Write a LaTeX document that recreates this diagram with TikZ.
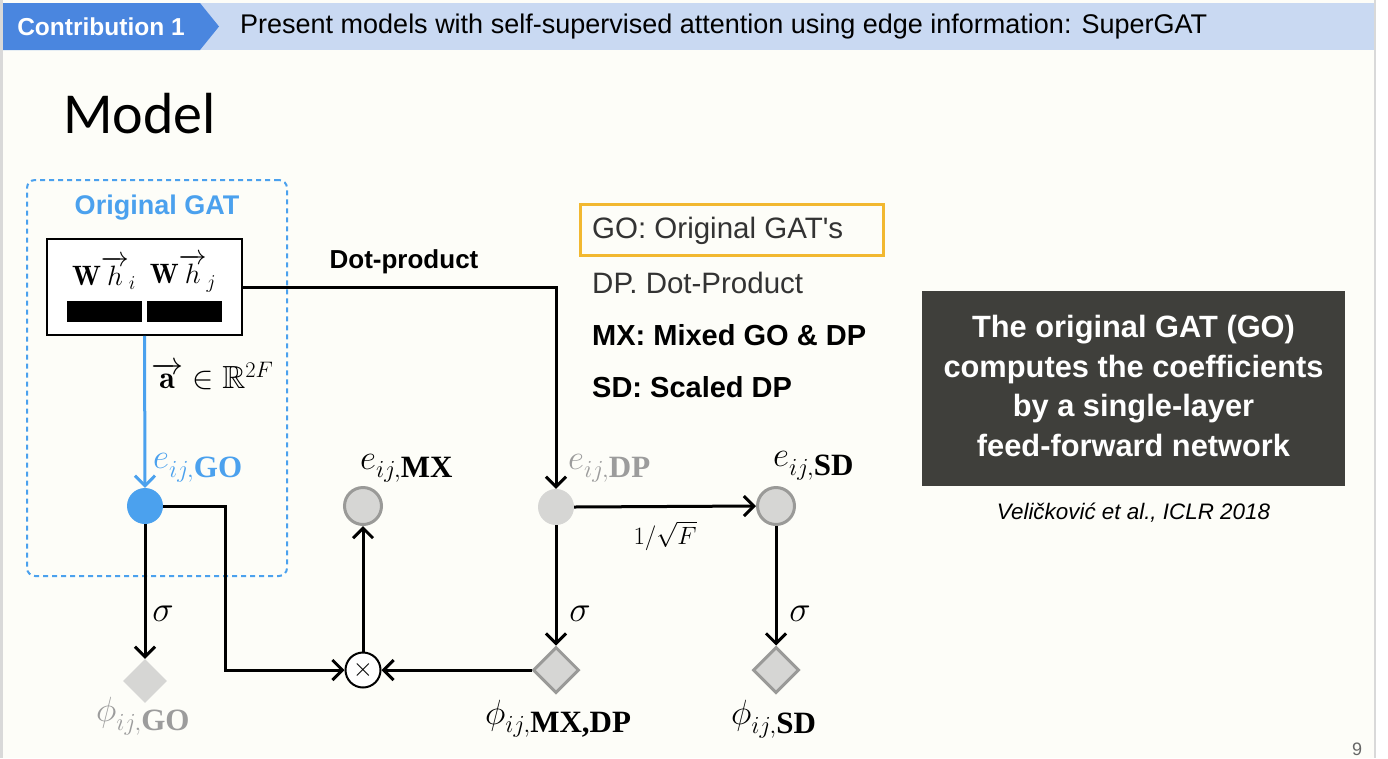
\RequirePackage{fix-cm}
\documentclass[tikz,border=0pt]{standalone}
\usepackage{amsmath,amssymb}
\usepackage{fontspec}
\newfontfamily\sansf{Liberation Sans}
\newfontfamily\seriff{Liberation Serif}
\newfontfamily\carl{Carlito}
\usetikzlibrary{arrows.meta,shapes.geometric}
\definecolor{barblue}{HTML}{C9D9F2}
\definecolor{arrowblue}{HTML}{4A86DF}
\definecolor{gatblue}{HTML}{4BA1EE}
\definecolor{nodegray}{HTML}{D6D6D4}
\definecolor{bordergray}{HTML}{9A9A98}
\definecolor{labgray}{HTML}{9C9C9C}
\definecolor{darkbox}{HTML}{3F3F3B}
\definecolor{legendyellow}{HTML}{F2B830}
\definecolor{slidebg}{HTML}{FDFDF8}
\definecolor{edgegray}{HTML}{D9D9D9}
\newcommand\bsub[1]{\text{\seriff\bfseries\fontsize{31}{36}\selectfont #1}}
\tikzset{
  conn/.style={line width=3pt, -{Straight Barb[length=10pt,width=20pt]}},
  plainnode/.style={circle, fill=nodegray, minimum size=36pt, inner sep=0pt},
  ringnode/.style={circle, fill=nodegray, draw=bordergray, line width=3pt, minimum size=37pt, inner sep=0pt},
  phinode/.style={diamond, fill=nodegray, draw=bordergray, line width=3pt, minimum size=46pt, inner sep=0pt},
  mathlab/.style={inner sep=0pt, anchor=west, font=\fontsize{35}{40}\selectfont},
  sig/.style={inner sep=0pt, font=\fontsize{36}{40}\selectfont},
  legend/.style={anchor=west, inner sep=0pt, font=\sansf\fontsize{29.5}{34}\selectfont},
}
\begin{document}
\begin{tikzpicture}[x=1pt,y=-1pt]
\useasboundingbox (0,0) rectangle (1388,758);
% slide background
\fill[white] (0,0) rectangle (1388,758);
\fill[slidebg] (3,0) rectangle (1374,758);
\fill[edgegray] (0,0) rectangle (3,758);
\fill[edgegray] (1374,0) rectangle (1376,758);
% top bar
\fill[barblue] (3,3) rectangle (1374,50);
\fill[arrowblue] (3,3) -- (200,3) -- (219,26.5) -- (200,50) -- (3,50) -- cycle;
\node[text=white, font=\sansf\bfseries\fontsize{24.5}{28}\selectfont, inner sep=0pt] (contrib) at (101,27) {Contribution 1};
\node[anchor=west, font=\sansf\fontsize{27}{30}\selectfont, inner sep=0pt] (headline) at (240,27) {Present models with self-supervised attention using edge information: SuperGAT};
% title
\node[anchor=base west, font=\carl\fontsize{58}{64}\selectfont, inner sep=0pt] (title) at (63,133) {Model};
% original GAT box
\node[draw=gatblue, dashed, dash pattern=on 5pt off 4pt, line width=2pt, rounded corners=8pt, minimum width=260pt, minimum height=396pt] (gatbox) at (157,378) {};
\node[text=gatblue, font=\sansf\bfseries\fontsize{27}{30}\selectfont, inner sep=0pt] (gatlabel) at (157,208) {Original GAT};
\node[draw, fill=white, line width=1.5pt, minimum width=195pt, minimum height=96pt, inner sep=0pt] (whbox) at (144.5,287) {};
\node[font=\fontsize{28}{32}\selectfont, inner sep=0pt] (whi) at (104,273) {$\mathbf{W}\overrightarrow{h}_i$};
\node[font=\fontsize{28}{32}\selectfont, inner sep=0pt] (whj) at (183,273) {$\mathbf{W}\overrightarrow{h}_j$};
\fill (67,301) rectangle (142,322);
\fill (147,301) rectangle (222,322);
% nodes
\node[circle, fill=gatblue, minimum size=36pt, inner sep=0pt] (ego) at (145,506) {};
\node[ringnode] (emx) at (363,506) {};
\node[plainnode] (edp) at (556,507) {};
\node[ringnode] (esd) at (776,506) {};
\node[circle, draw, fill=white, line width=2pt, minimum size=35pt, inner sep=0pt, font=\fontsize{26}{26}\selectfont] (mult) at (363,670) {$\times$};
\node[diamond, fill=nodegray, minimum size=44pt, inner sep=0pt] (pgo) at (145,681) {};
\node[phinode] (pmx) at (556,670) {};
\node[phinode] (psd) at (776,670) {};
% labels
\node[mathlab, text=gatblue] (lego) at (153,468) {$e_{ij,\bsub{GO}}$};
\node[mathlab] (lemx) at (360,468) {$e_{ij,\bsub{MX}}$};
\node[mathlab, text=labgray] (ledp) at (568,468) {$e_{ij,\bsub{DP}}$};
\node[mathlab] (lesd) at (773,466) {$e_{ij,\bsub{SD}}$};
\node[mathlab, text=labgray] (lpgo) at (96,716) {$\phi_{ij,\bsub{GO}}$};
\node[mathlab] (lpmx) at (485,719) {$\phi_{ij,\bsub{MX,DP}}$};
\node[mathlab] (lpsd) at (731,719) {$\phi_{ij,\bsub{SD}}$};
\node[sig] (s1) at (163,614) {$\sigma$};
\node[sig] (s2) at (580,614) {$\sigma$};
\node[sig] (s3) at (800,614) {$\sigma$};
\node[inner sep=0pt, font=\fontsize{25}{29}\selectfont] (scale) at (665,536) {$1/\sqrt{F}$};
\node[anchor=west, inner sep=0pt, font=\fontsize{32}{36}\selectfont] (avec) at (151,376) {$\overrightarrow{\mathbf{a}}\in\mathbb{R}^{2F}$};
\node[font=\sansf\bfseries\fontsize{26}{30}\selectfont, inner sep=0pt] (dotlab) at (404,262) {Dot-product};
% connectors
\coordinate (bend) at (225,670);
\draw[conn, gatblue] (whbox.south) -- (ego.north);
\draw[conn] (whbox.east) -| (edp.north);
\draw[conn] (ego.south) -- (pgo.north);
\draw[conn] (ego.east) -| (bend) -- (mult.west);
\draw[conn] (mult.north) -- (emx.south);
\draw[conn] (pmx.west) -- (mult.east);
\draw[conn] (edp.south) -- (pmx.north);
\draw[conn] (edp.east) -- (esd.west);
\draw[conn] (esd.south) -- (psd.north);
% legend
\node[draw=legendyellow, line width=3pt, minimum width=303pt, minimum height=51pt, inner sep=0pt] (legbox) at (731.5,230) {};
\node[legend, text=black!80] (lgo) at (592,231) {GO: Original GAT's};
\node[legend, text=black!80] (ldp) at (592,283) {DP. Dot-Product};
\node[legend, font=\sansf\bfseries\fontsize{29}{34}\selectfont] (lmx) at (592,335) {MX: Mixed GO \& DP};
\node[legend, font=\sansf\bfseries\fontsize{29}{34}\selectfont] (lsd) at (592,387) {SD: Scaled DP};
% dark box
\node[fill=darkbox, minimum width=423pt, minimum height=195pt, inner sep=0pt] (note) at (1133.5,388) {};
\node[text=white, align=center, font=\sansf\bfseries\fontsize{30.8}{39.5}\selectfont, inner sep=0pt] (notetext) at (1133.5,386) {The original GAT (GO)\\computes the coefficients\\by a single-layer\\feed-forward network};
\node[font=\sansf\itshape\fontsize{22.4}{26}\selectfont, inner sep=0pt] (cite) at (1133.5,513) {Veličković et al., ICLR 2018};
\node[text=black!60, font=\sansf\fontsize{18}{20}\selectfont, inner sep=0pt] (pagenum) at (1357,749) {9};
\end{tikzpicture}
\end{document}
